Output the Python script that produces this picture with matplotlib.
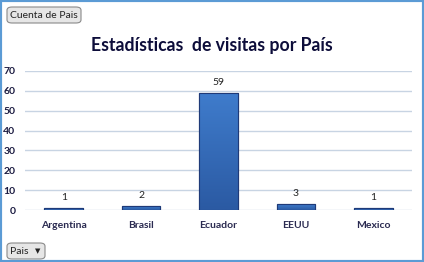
import numpy as np
import matplotlib.pyplot as plt
from matplotlib.patches import FancyBboxPatch, Rectangle
from matplotlib.colors import LinearSegmentedColormap

# Data
paises = ['Argentina', 'Brasil', 'Ecuador', 'EEUU', 'Mexico']
visitas = [1, 2, 59, 3, 1]
y_ticks = [0, 10, 20, 30, 40, 50, 60, 70]

FONT = 'Lato'

fig = plt.figure(figsize=(4.24, 2.62), dpi=100)
fig.patch.set_facecolor('white')

# Plot area
ax = fig.add_axes([25 / 424, 1 - 210 / 262, 387 / 424, 139 / 262])
x = np.arange(len(paises))
bars = ax.bar(x, visitas, width=0.5, color='#3670c2', edgecolor='#1f3a78', linewidth=0.8, zorder=3)

# vertical gradient inside each bar
grad = np.linspace(0, 1, 100).reshape(-1, 1)
cmap = LinearSegmentedColormap.from_list('g', ['#2b5aa3', '#3f7ccc'])
for b in bars:
    bx, by = b.get_x(), b.get_y()
    w, h = b.get_width(), b.get_height()
    im = ax.imshow(grad, cmap=cmap, extent=[bx, bx + w, by, by + h], aspect='auto',
                   origin='lower', zorder=3.5)
    im.set_clip_path(b)
    ax.add_patch(Rectangle((bx, by), w, h, fill=False, edgecolor='#1f3a78', linewidth=0.8, zorder=4))

for xi, v in zip(x, visitas):
    ax.text(xi, v + 3, str(v), ha='center', va='bottom', fontsize=7.5, color='#222222',
            family=FONT)

ax.set_xlim(-0.5, len(paises) - 0.5)
ax.set_ylim(0, 70)
ax.set_yticks(y_ticks)
ax.set_xticks(x)
ax.set_xticklabels(paises)
ax.yaxis.grid(True, color='#c8d4e3', linewidth=1, zorder=0)
ax.set_axisbelow(True)
for s in ax.spines.values():
    s.set_visible(False)
ax.tick_params(length=0, labelsize=7.5, colors='#1a1a40')
ax.tick_params(axis='x', pad=8)
ax.tick_params(axis='y', pad=7)
for lbl in ax.get_yticklabels():
    lbl.set_fontweight('bold')
    lbl.set_family(FONT)
for lbl in ax.get_xticklabels():
    lbl.set_family(FONT)
    lbl.set_fontweight('bold')
    lbl.set_color('#2a2a50')

fig.text(0.5, 1 - 46 / 262, 'Estadísticas  de visitas por País', ha='center', va='center',
         fontsize=12.7, fontweight='bold', color='#0d0d3a', family=FONT)

# field buttons
btn1 = FancyBboxPatch((7 / 424, 1 - 23 / 262), 74 / 424, 16 / 262,
                      boxstyle='round,pad=0,rounding_size=0.012', transform=fig.transFigure,
                      facecolor='#e6e6e6', edgecolor='#8a8a8a', linewidth=0.8)
fig.patches.append(btn1)
fig.text(44 / 424, 1 - 15 / 262, 'Cuenta de Pais', ha='center', va='center', fontsize=7.5,
         color='#222222', family=FONT)

btn2 = FancyBboxPatch((7 / 424, 1 - 259 / 262), 38 / 424, 16 / 262,
                      boxstyle='round,pad=0,rounding_size=0.012', transform=fig.transFigure,
                      facecolor='#e6e6e6', edgecolor='#8a8a8a', linewidth=0.8)
fig.patches.append(btn2)
fig.text(10 / 424, 1 - 251 / 262, 'Pais', ha='left', va='center', fontsize=7.5,
         color='#222222', family=FONT)
fig.text(38 / 424, 1 - 251 / 262, '▼', ha='center', va='center', fontsize=5,
         color='#222222', family='DejaVu Sans')

# outer blue frame
fig.patches.append(Rectangle((0, 0), 1, 1, transform=fig.transFigure, fill=False,
                             edgecolor='#5b9bd5', linewidth=3))

fig.savefig('out.png', dpi=100)
